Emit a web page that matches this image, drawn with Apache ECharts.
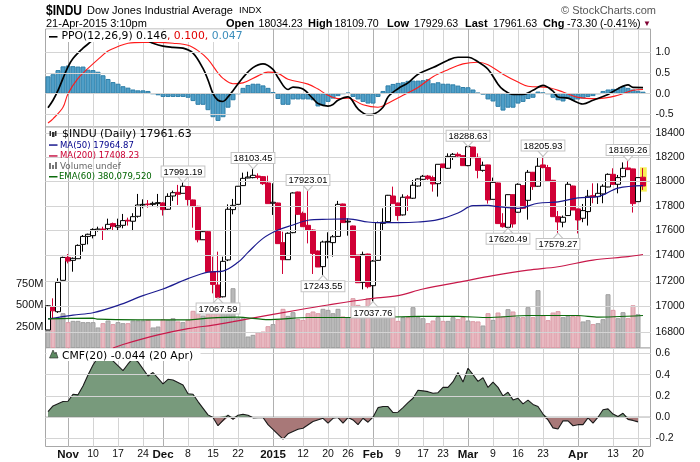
<!DOCTYPE html>
<html><head><meta charset="utf-8">
<style>html,body{margin:0;padding:0;background:#fff}#c{width:700px;height:462px}</style>
<script src="https://cdn.jsdelivr.net/npm/echarts@6/dist/echarts.min.js"></script>
</head><body><div id="c"></div>
<script>
const opens=[16818,16997,16959,17204,17385,17362,17375,17489,17553,17559,17604,17612,17615,17656,17628,17642,17683,17675,17715,17807,17815,17812,17818,17823,17772,17880,17910,17902,17957,17848,17796,17526,17591,17272,17167,17075,17365,17769,17812,17965,18028,18031,18044,18039,17987,17821,17823,17503,17367,17583,17913,17739,17642,17604,17436,17312,17508,17503,17553,17815,17669,17637,17404,17188,17412,17162,17362,17658,17672,17880,17823,17726,17873,17862,17962,18017,18044,18031,17981,18144,18108,18204,18224,18213,18130,18285,18199,18091,18136,17853,17987,17658,17626,17891,17748,17965,17845,18075,17960,18136,18114,18009,17712,17667,17721,17962,17775,17699,17753,17883,17875,17897,17954,18058,17976,18039,18111,18103,17834,18034.23];
const closes=[17005,16966,17188,17385,17356,17378,17481,17553,17570,17609,17612,17601,17650,17634,17639,17680,17677,17712,17807,17812,17810,17820,17826,17769,17877,17907,17894,17960,17851,17794,17526,17591,17272,17172,17070,17354,17772,17804,17960,18025,18036,18050,18033,17981,17818,17829,17495,17367,17578,17905,17731,17631,17604,17417,17309,17508,17513,17550,17812,17664,17675,17385,17185,17409,17154,17356,17664,17667,17886,17818,17721,17870,17862,17968,18020,18042,18022,17979,18141,18114,18207,18224,18210,18130,18288,18196,18091,18133,17848,17992,17656,17631,17891,17653,17976,17780,18075,17957,18125,18114,18006,17712,17669,17707,17976,17766,17685,17761,17878,17872,17902,17960,18058,17976,18031,18108,18097,17818,18031,17961.63];
const lows=[16818,16908,16950,17204,17338,17272,17375,17431,17489,17537,17591,17524,17599,17604,17596,17618,17640,17596,17704,17780,17785,17793,17788,17721,17767,17840,17807,17902,17802,17623,17505,17524,17269,17102,17067.59,17070,17356,17731,17807,17962,18025,18025,18017,17971,17818,17726,17495,17254,17367,17578,17726,17631,17497,17254,17309,17243.55,17378,17391,17550,17664,17559,17385,17185,17133,17141,17037.76,17360,17599,17667,17818,17680,17721,17758,17856,17957,18011,18011,17916,17875,18108,18103,18177,18204,18130,18125,18196,18025,18080,17818,17851,17656,17623,17620.49,17623,17745,17775,17688,17930,17957,18108,18006,17712,17579.27,17626,17719,17766,17577,17667,17640,17821,17815,17821,17952,17971,17902,18033,18094,17745,17832,17929.63];
const highs=[17010,17063,17220,17391,17412,17385,17489,17564,17575,17618,17631,17631,17696,17664,17696,17734,17704,17740,17897,17853,17847,17834,17897,17829,17902,17924,17971,17991.19,17962,17851,17800,17596,17596,17391,17431,17391,17812,17856,17962,18072,18080,18103.45,18066,18044,18047,17984,17826,17591,17586,17910,17916,17753,17923.01,17610,17441,17519,17586,17564,17840,17818,17699,17640,17404,17431,17415,17364,17672,17780,17889,17957,17826,17894,17889,18011,18025,18053,18053,18047,18141,18144,18232,18235,18240,18213,18288.63,18286,18232,18163,18138,18031,17990,17740,17893,17893,17984,17968,18094,18078,18199,18205.93,18136,18012,17758,17721,18003,17965,17778,17815,17930,17984,17984,17976,18066,18108,18053,18157,18169.26,18105,18034,18109.7];
const volumes=[328,347,347,405,301,316,316,301,301,301,239,289,320,278,301,289,289,320,320,320,328,239,250,336,328,347,309,301,328,433,433,378,394,405,444,405,394,696,347,347,134,153,184,192,254,278,328,456,374,417,336,328,405,425,405,456,444,405,456,367,359,580,502,464,580,425,367,386,386,386,316,359,359,475,359,347,289,320,359,316,316,359,336,359,320,312,309,262,405,328,413,367,452,425,359,359,475,359,673,378,324,413,429,359,374,371,374,309,324,278,289,336,626,444,347,417,347,498,394,null];

const ma50X=[0,5,9,14,19,23,28,32,35,38,40,43,46,49,52,56,60,64,66,70,74,78,82,85,88,90,94,98,102,106,110,114,119];
const ma50=[16903,16933,16951,17008,17084,17136,17217,17269,17277,17346,17425,17537,17604,17645,17683,17691,17694,17669,17664,17664,17669,17688,17742,17801,17804,17793,17780,17821,17832,17865,17875,17944,17964.87];
const ma200X=[13,15,22,28,33,37,40,50,56,64,70,75,83,89,96,102,109,116,119];
const ma200=[16680,16707,16780,16828,16856,16882,16903,16972,17011,17058,17084,17136,17196,17241,17285,17311,17364,17391,17408.23];
const emaX=[0,9,10,18,28,32,38,44,52,64,74,82,88,96,106,110,119];
const ema=[340,347,335,328,328,347,359,330,355,355,367,367,355,378,378,359,378];

const histo=[.42,.47,.57,.66,.68,.665,.655,.655,.58,.57,.53,.445,.355,.28,.24,.18,.145,.1,.08,.08,.065,.0,-.04,-.08,-.08,-.08,-.08,-.08,-.1,-.18,-.27,-.27,-.4,-.57,-.66,-.57,-.34,-.16,0,.14,.21,.24,.24,.2,.14,.04,-.13,-.27,-.27,-.14,-.14,-.14,-.14,-.16,-.31,-.28,-.2,-.12,-.06,0,.025,-.08,-.14,-.2,-.24,-.24,-.08,.065,.2,.235,.26,.275,.31,.315,.315,.325,.35,.25,.275,.24,.24,.225,.195,.16,.155,.1,.025,-.015,-.14,-.19,-.32,-.41,-.34,-.34,-.24,-.2,-.13,-.1,.05,.03,0,-.1,-.16,-.19,-.12,-.16,-.14,-.12,-.08,-.06,0,.065,.1,.115,.12,.18,.14,.1,.07,.047];
const ppoX=[0,1,2,3,4,5,7,8,10,14,17,20,21,23,25,27,29,31,32,33,34,35,36,37,39,41,43,45,46,48,49,51,53,54,56,57,58,60,62,64,65,67,68,70,72,74,77,80,82,84,86,88,90,91,93,95,97,99,101,102,104,107,109,112,114,116,117,119];
const ppo=[-.34,-.16,.08,.37,.65,.85,1.10,1.20,1.38,1.50,1.46,1.28,1.22,1.15,1.12,1.10,.98,.61,.33,0,-.16,-.19,-.08,.07,.39,.63,.72,.59,.39,.10,.16,.11,-.12,-.24,-.30,-.26,-.16,-.08,-.37,-.51,-.50,-.33,-.08,.12,.26,.47,.63,.81,.88,.88,.77,.59,.23,.10,-.02,-.02,.08,.20,.06,-.08,-.11,-.25,-.16,-.02,.12,.21,.15,.146];
const signalX=[0,1,3,4,6,8,10,12,14,16,19,22,25,28,30,32,34,35,37,39,42,44,46,48,52,54,56,58,60,63,66,68,71,74,77,80,83,86,88,91,94,96,100,103,106,110,114,117,119];
const signal=[-.71,-.61,-.33,0,.37,.61,.83,1.03,1.14,1.22,1.24,1.24,1.22,1.17,1.04,.83,.50,.37,.24,.26,.43,.52,.49,.35,.23,.11,-.04,-.12,-.11,-.27,-.33,-.23,-.04,.15,.41,.58,.72,.76,.70,.47,.28,.18,.15,.04,-.09,-.12,-.04,.08,.10];

const cmfX=[0,1,3,4,5,6,7,8,9,10,11,12,13,15,16,17,18,20,21,23,24,25,27,28,29,30,32,33,34,36,37,38,39,40,41,43,44,47,48,50,51,53,55,56,57,58,59,60,61,62,63,64,65,66,67,68,69,70,71,72,73,74,75,76,77,78,79,80,81,82,83,84,85,86,87,88,89,90,91,92,93,94,95,96,97,98,99,100,101,102,103,104,105,106,107,108,109,110,111,112,113,114,115,116,117,118];
const cmf=[.053,.106,.147,.15,.216,.21,.294,.397,.49,.5625,.575,.57,.53,.4375,.5,.553,.52,.3875,.42,.3125,.356,.35,.303,.22,.216,.147,.022,-.003,-.08,.019,-.019,.019,.028,.019,-.006,-.003,-.07,-.206,-.156,-.1125,-.103,-.04,-.01,-.056,-.01,-.003,-.056,-.003,-.025,-.07,-.01,-.047,0,.09,.10,.10,.044,.047,.09,.137,.178,.253,.247,.24,.225,.23,.28,.28,.334,.42,.33,.46,.40,.337,.37,.28,.33,.28,.20,.234,.1625,.178,.125,.16,.12,.10,.03,-.025,-.10,-.11,-.034,-.034,-.08,-.07,-.07,-.006,-.056,0,.07,.078,.03,.006,.0375,-.02,-.03,-.044];

const weekTicks=[4,9,14,19,23,28,33,38,45,51,56,60,65,70,75,79,84,89,94,99,106,113,118];
const weekLabels=['Nov','10','17','24','Dec','8','15','22','2015','12','20','26','Feb','9','17','23','Mar','9','16','23','Apr','13','20'];
const monthTicks=[4,23,45,65,84,106];
const priceTicks=[16800,17000,17200,17400,17600,17800,18000,18200,18400];
const volumeTicks=[250,500,750];
const ppoTicks=[-.5,0,.5,1];
const cmfTicks=[-.2,0,.2,.4,.6];
const peaks=[[27,17991.19,1],[41,18103.45,1],[52,17923.01,1],[84,18288.63,1],[99,18205.93,1],[116,18169.26,1],[34,17067.59,0],[55,17243.55,0],[65,17037.76,0],[92,17620.49,0],[102,17579.27,0]];

const RED='#d00035', GRID='#d4d4d4', MON='#b0b0b0', FRAME='#a8a8a8', TXT='#111';
const AF='"Liberation Sans",Arial,sans-serif', VF='"DejaVu Sans",Verdana,sans-serif';
const X0=45.5, XW=605;
const panels=[{top:29,bottom:127},{top:127,bottom:348},{top:348,bottom:446.5}];
const grid=panels.map(p=>({left:X0,width:XW,top:p.top,height:p.bottom-p.top,show:true,borderColor:FRAME,borderWidth:1,backgroundColor:'#fff'}));
const xAxis=[];
panels.forEach((p,g)=>{
  const last=g===2;
  xAxis.push({gridIndex:g,type:'value',min:-.5,max:120.5,
    axisLine:{show:false},axisTick:{show:false,customValues:weekTicks},
    splitLine:{show:true,lineStyle:{color:GRID,width:1}},
    axisLabel:last?{show:true,customValues:weekTicks,margin:2,fontFamily:AF,fontSize:10.5,color:TXT,hideOverlap:false,
      formatter:v=>{const k=weekTicks.indexOf(v),s=weekLabels[k];return monthTicks.includes(v)?'{b|'+s+'}':s;},
      rich:{b:{fontFamily:AF,fontSize:11.5,fontWeight:'bold',color:TXT}}}:{show:false}});
  xAxis.push({gridIndex:g,type:'value',min:-.5,max:120.5,axisLine:{show:false},axisTick:{show:false,customValues:monthTicks},
    splitLine:{show:true,lineStyle:{color:MON,width:1}},axisLabel:{show:false,customValues:monthTicks}});
});
const yCommon={position:'right',axisLine:{show:false},axisTick:{show:true,length:3,lineStyle:{color:FRAME}},splitLine:{show:true,lineStyle:{color:GRID}}};
const yAxis=[
 Object.assign({gridIndex:0,type:'value',min:-.807,max:1.564},yCommon,{
   axisTick:{show:true,length:3,lineStyle:{color:FRAME},customValues:ppoTicks},
   axisLabel:{customValues:ppoTicks,fontFamily:AF,fontSize:10.5,color:TXT,margin:5,formatter:v=>v.toFixed(1),showMinLabel:true,showMaxLabel:true}}),
 Object.assign({gridIndex:1,type:'log',logBase:10,min:16680,max:18453},yCommon,{
   axisTick:{show:true,length:3,lineStyle:{color:FRAME},customValues:priceTicks},
   axisLabel:{customValues:priceTicks,fontFamily:AF,fontSize:10.5,color:TXT,margin:5,formatter:v=>String(Math.round(v))}}),
 {gridIndex:1,type:'value',position:'left',min:0,max:2572,axisLine:{show:false},axisTick:{show:false,customValues:volumeTicks},splitLine:{show:false},
   axisLabel:{customValues:volumeTicks,fontFamily:AF,fontSize:11,color:TXT,margin:2,formatter:v=>v+'M'}},
 Object.assign({gridIndex:2,type:'value',min:-.275,max:.65},yCommon,{
   axisTick:{show:true,length:3,lineStyle:{color:FRAME},customValues:cmfTicks},
   axisLabel:{customValues:cmfTicks,fontFamily:AF,fontSize:10.5,color:TXT,margin:5,formatter:v=>v.toFixed(1)}})
];
const zip=(a,b)=>a.map((x,i)=>[x,b[i]]);
const line=(xi,yi,d,color,w,z,extra)=>Object.assign({type:'line',xAxisIndex:xi,yAxisIndex:yi,data:d,showSymbol:false,symbol:'none',smooth:.35,clip:true,z,silent:true,lineStyle:{color,width:w},animation:false},extra||{});
const gridMark=(xi,yi,vals,color)=>({type:'line',xAxisIndex:xi,yAxisIndex:yi,data:[],z:1,silent:true,animation:false,
  markLine:{silent:true,animation:false,symbol:'none',label:{show:false},lineStyle:{color,width:1,type:'solid'},data:vals.map(v=>({yAxis:v}))}});
const peakData=peaks.map(p=>({coord:[p[0],p[1]],value:p[1].toFixed(2),symbol:'triangle',symbolRotate:p[2]?180:0,symbolSize:[11,6],symbolOffset:[0,p[2]?-3:3],
  itemStyle:{color:'#fff',borderColor:'#c4c4c4',borderWidth:1},
  label:{show:true,position:p[2]?'top':'bottom',distance:-.5,formatter:p[1].toFixed(2),fontFamily:AF,fontSize:9.3,color:'#000',backgroundColor:'#fff',borderColor:'#c4c4c4',borderWidth:1,padding:[1,2,0,2]}}));
const series=[
 gridMark(2,1,priceTicks,GRID),
 gridMark(0,0,ppoTicks,GRID),
 gridMark(4,3,cmfTicks,GRID),
 {type:'bar',xAxisIndex:0,yAxisIndex:0,data:histo.map((v,i)=>[i,v]),barWidth:5,z:2,silent:true,animation:false,itemStyle:{color:'#4f9fc8',borderColor:'#2f7fa8',borderWidth:1}},
 line(0,0,zip(signalX,signal),'#ff1a1a',1.1,3),
 line(0,0,zip(ppoX,ppo),'#000',1.7,4),
 {type:'bar',xAxisIndex:2,yAxisIndex:2,z:2,barWidth:5,silent:true,animation:false,
  data:volumes.map((v,i)=>v==null?null:{value:[i,v],itemStyle:closes[i]<opens[i]?{color:'#e8b9c1',borderColor:'#dc9aa6',borderWidth:1}:{color:'#b9b9b9',borderColor:'#a0a0a0',borderWidth:1}})},
 {type:'candlestick',xAxisIndex:2,yAxisIndex:1,z:4,silent:true,animation:false,barWidth:5,clip:true,
  data:opens.map((o,i)=>[i,o,closes[i],lows[i],highs[i]]),
  itemStyle:{color:'#fff',color0:RED,borderColor:'#000',borderColor0:RED,borderWidth:1},
  markArea:{silent:true,animation:false,itemStyle:{color:'#f7ee4a',opacity:.95},data:[[{coord:[118.4,18116]},{coord:[119.75,17916]}]]},
  markPoint:{silent:true,animation:false,z:8,data:peakData}},
 line(2,1,zip(ma200X,ma200),'#c8194a',1.2,5),
 line(2,1,zip(ma50X,ma50),'#1b1b8f',1.2,5),
 line(2,2,zip(emaX,ema),'#0b6a0b',1.2,5,{smooth:.2}),
 line(4,3,zip(cmfX,cmf.map(v=>Math.max(v,0))),'transparent',0,2,{smooth:false,areaStyle:{color:'#789a7c',opacity:1}}),
 line(4,3,zip(cmfX,cmf.map(v=>Math.min(v,0))),'transparent',0,2,{smooth:false,areaStyle:{color:'#a87878',opacity:1}}),
 line(4,3,zip(cmfX,cmf),'#1a1a1a',1.1,3,{smooth:false}),
 line(4,3,[[-.5,0],[120.5,0]],'#808080',1,2.5,{smooth:false})
];
const T=(x,y,text,font,fill,o)=>Object.assign({type:'text',x,y,silent:true,z:50,style:{text,font,fill,textVerticalAlign:'middle'}},o||{});
const R=(x,y,w,h,fill,z)=>({type:'rect',silent:true,z:z||49,shape:{x,y,width:w,height:h},style:{fill}});
const af=(s,b)=>(b?'bold ':'')+s+'px '+AF, vf=s=>s+'px '+VF;
const graphic=[
 R(46.5,29.5,207,12.5,'#fff'),R(46.5,348.5,154,12.5,'#fff'),
 T(46,10.5,'$INDU',af(15,true),'#000',{scaleX:.8}),
 T(87,10.5,'Dow Jones Industrial Average',af(11),'#000'),
 T(239,10.5,'INDX',af(9.5),'#000'),
 T(46,24,'21-Apr-2015 3:10pm',af(11),'#000'),
 T(226,24,'Open',af(11,true),'#000'),T(258.5,24,'18034.23',af(10.6),'#000'),
 T(308,24,'High',af(11,true),'#000'),T(334.5,24,'18109.70',af(10.6),'#000'),
 T(387,24,'Low',af(11,true),'#000'),T(414,24,'17929.63',af(10.6),'#000'),
 T(465,24,'Last',af(11,true),'#000'),T(493,24,'17961.63',af(10.6),'#000'),
 T(543,24,'Chg',af(11,true),'#000'),T(567,24,'-73.30 (-0.41%)',af(10.6),'#000'),
 T(643,24,'\u25BC',af(8),'#800033'),
 T(561,10.5,'\u00A9 StockCharts.com',af(11),'#555'),
 R(49,36,8.5,1.6,'#000',50),
 {type:'text',x:61.5,y:36.6,silent:true,z:50,style:{text:'{a|PPO(12,26,9) 0.146}{b|, 0.100,} {c|0.047}',textVerticalAlign:'middle',font:vf(10.8),
   rich:{a:{fill:'#000',font:vf(10.8)},b:{fill:'#e00000',font:vf(10.8)},c:{fill:'#3b8dbb',font:vf(10.8)}}}},
 R(49.5,131,1.5,5,'#333',50),R(52,132,2.5,5,'#333',50),R(55,131,1.5,5,'#333',50),
 T(62,134,'$INDU (Daily) 17961.63',vf(10.9),'#000'),
 R(49,144.3,8.5,1.5,'#1b1b8f',50),T(60,145.3,'MA(50) 17964.87',vf(8.5),'#00008b'),
 R(49,155.2,8.5,1.5,'#c8194a',50),T(60,156.2,'MA(200) 17408.23',vf(8.5),'#cc0033'),
 R(49,163,2,6,'#777',50),R(52,165,2,4,'#777',50),R(55,162,2,7,'#777',50),
 T(60,166.6,'Volume undef',vf(8.8),'#666'),
 R(49,176,8.5,1.5,'#0b6a0b',50),T(59,176.8,'EMA(60) 380,079,520',vf(8.5),'#006400'),
 {type:'polygon',silent:true,z:50,shape:{points:[[49.5,358],[53,350],[55,354],[56,352],[58,358]]},style:{fill:'#5d8a62',stroke:'#222',lineWidth:.6}},
 T(62,355.8,'CMF(20) -0.044 (20 Apr)',vf(10.8),'#000')
];
const chart=echarts.init(document.getElementById('c'),null,{renderer:'canvas'});
chart.setOption({animation:false,backgroundColor:'#fff',grid,xAxis,yAxis,series,graphic:{elements:graphic}});
</script></body></html>
